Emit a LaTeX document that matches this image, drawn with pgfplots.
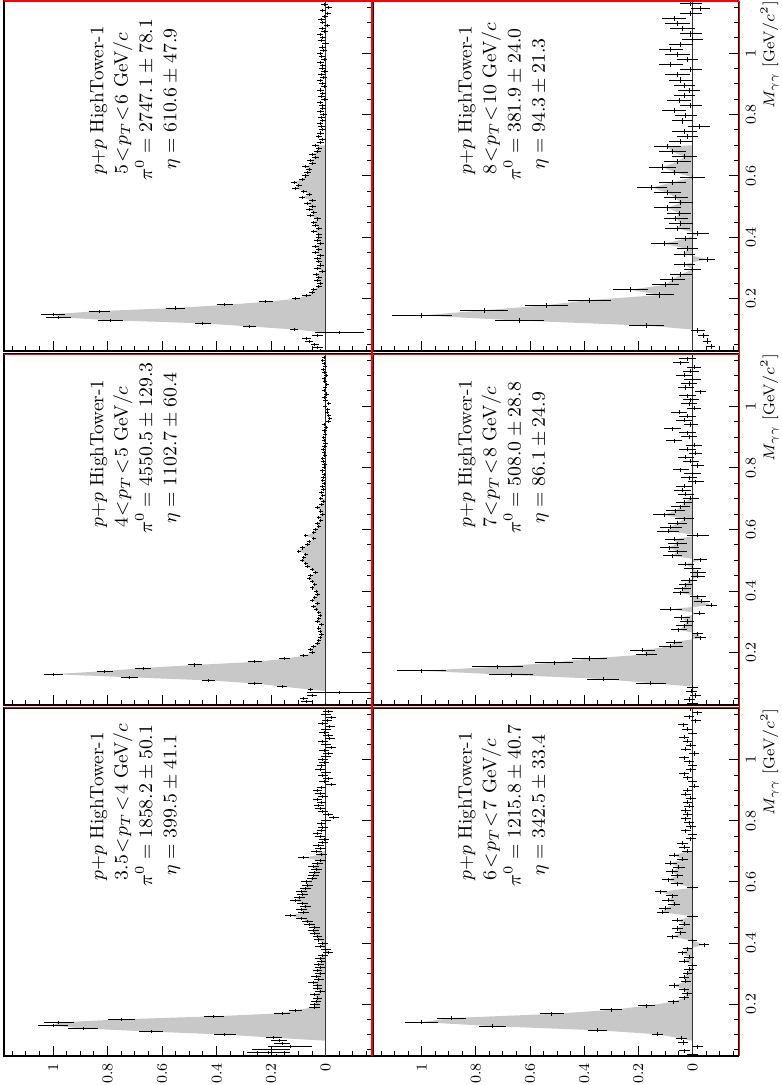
\RequirePackage{fix-cm}
\documentclass[border=0pt]{standalone}
\usepackage{pgfplots}
\pgfplotsset{compat=1.18}
\usepackage{pgfplotstable}
\definecolor{fillg}{RGB}{200,200,200}

% panel A: 3.5<pT<4 (bin 0.01)
\pgfplotstableread{
m c e
0.03 0.18 0.07
0.04 0.21 0.08
0.05 0.20 0.07
0.06 0.13 0.08
0.07 0.16 0.03
0.08 0.17 0.03
0.09 0.19 0.03
0.10 0.37 0.04
0.11 0.64 0.045
0.12 0.89 0.055
0.13 1.00 0.055
0.14 0.98 0.055
0.15 0.75 0.05
0.16 0.41 0.037
0.17 0.16 0.03
0.18 0.11 0.025
0.19 0.04 0.02
0.20 0.04 0.018
0.21 0.035 0.018
0.22 0.03 0.018
0.23 0.04 0.018
0.24 0.02 0.018
0.25 0.03 0.018
0.26 0.03 0.018
0.27 0.045 0.018
0.28 0.025 0.018
0.29 0.035 0.018
0.30 0.02 0.018
0.31 0.03 0.018
0.32 0.02 0.018
0.33 0.025 0.018
0.34 0.015 0.018
0.35 0.02 0.018
0.36 0.01 0.018
0.37 -0.01 0.018
0.38 0.0 0.018
0.39 0.02 0.018
0.40 0.01 0.018
0.41 0.025 0.018
0.42 0.03 0.018
0.43 0.04 0.018
0.44 0.045 0.02
0.45 0.04 0.02
0.46 0.06 0.02
0.47 0.065 0.02
0.48 0.09 0.02
0.49 0.13 0.02
0.50 0.08 0.02
0.51 0.09 0.02
0.52 0.075 0.02
0.53 0.085 0.02
0.54 0.11 0.02
0.55 0.095 0.02
0.56 0.085 0.02
0.57 0.09 0.02
0.58 0.075 0.02
0.59 0.065 0.02
0.60 0.07 0.02
0.61 0.05 0.02
0.62 0.045 0.02
0.63 0.04 0.02
0.64 0.035 0.02
0.65 0.045 0.02
0.66 0.03 0.02
0.67 0.02 0.02
0.68 0.08 0.02
0.69 0.015 0.02
0.70 0.035 0.02
0.71 0.02 0.02
0.72 0.025 0.02
0.73 0.01 0.018
0.74 0.005 0.018
0.75 0.02 0.018
0.76 0.03 0.018
0.77 0.015 0.018
0.78 0.01 0.018
0.79 0.015 0.018
0.80 0.0 0.018
0.81 -0.03 0.018
0.82 -0.01 0.018
0.83 0.01 0.018
0.84 0.02 0.018
0.85 0.025 0.018
0.86 0.015 0.018
0.87 0.03 0.018
0.88 0.01 0.018
0.89 0.02 0.018
0.90 0.03 0.018
0.91 0.015 0.018
0.92 -0.02 0.018
0.93 0.005 0.018
0.94 -0.01 0.018
0.95 0.01 0.018
0.96 0.0 0.018
0.97 0.02 0.018
0.98 0.015 0.018
0.99 0.005 0.018
1.00 0.01 0.018
1.01 0.0 0.018
1.02 -0.01 0.018
1.03 0.005 0.018
1.04 -0.02 0.018
1.05 0.0 0.018
1.06 0.01 0.018
1.07 -0.015 0.018
1.08 -0.01 0.018
1.09 0.005 0.018
1.10 0.0 0.018
1.11 -0.015 0.018
1.12 0.01 0.018
1.13 -0.005 0.018
1.14 -0.02 0.018
1.15 0.0 0.018
1.16 -0.01 0.018
}\tA

% panel B: 4<pT<5 (bin 0.01)
\pgfplotstableread{
m c e
0.03 0.0 0.02
0.04 0.07 0.02
0.05 0.08 0.015
0.06 0.05 0.02
0.07 -0.05 0.12
0.08 0.055 0.01
0.09 0.16 0.02
0.10 0.26 0.025
0.11 0.43 0.025
0.12 0.72 0.03
0.13 1.00 0.035
0.14 0.81 0.03
0.15 0.67 0.03
0.16 0.48 0.025
0.17 0.26 0.025
0.18 0.15 0.02
0.19 0.08 0.015
0.20 0.05 0.012
0.21 0.055 0.01
0.22 0.045 0.01
0.23 0.03 0.008
0.24 0.025 0.008
0.25 0.02 0.008
0.26 0.015 0.008
0.27 0.02 0.008
0.28 0.025 0.008
0.29 0.015 0.008
0.30 0.03 0.008
0.31 0.025 0.008
0.32 0.02 0.008
0.33 0.025 0.008
0.34 0.035 0.008
0.35 0.045 0.008
0.36 0.03 0.008
0.37 0.05 0.008
0.38 0.04 0.008
0.39 0.03 0.008
0.40 0.035 0.008
0.41 0.05 0.008
0.42 0.04 0.008
0.43 0.05 0.008
0.44 0.06 0.008
0.45 0.055 0.008
0.46 0.037 0.008
0.47 0.05 0.008
0.48 0.067 0.008
0.49 0.073 0.008
0.50 0.086 0.008
0.51 0.08 0.008
0.52 0.073 0.008
0.53 0.098 0.008
0.54 0.085 0.008
0.55 0.067 0.008
0.56 0.06 0.008
0.57 0.043 0.008
0.58 0.073 0.008
0.59 0.043 0.008
0.60 0.037 0.008
0.61 0.025 0.008
0.62 0.03 0.008
0.63 0.018 0.008
0.64 0.025 0.008
0.65 0.012 0.008
0.66 0.018 0.008
0.67 0.03 0.008
0.68 0.015 0.008
0.69 0.008 0.008
0.70 0.018 0.008
0.71 0.01 0.008
0.72 0.015 0.008
0.73 0.008 0.008
0.74 0.012 0.008
0.75 0.005 0.008
0.76 0.01 0.008
0.77 0.008 0.008
0.78 0.005 0.008
0.79 0.012 0.008
0.80 0.006 0.008
0.81 0.004 0.008
0.82 0.008 0.008
0.83 0.01 0.008
0.84 0.003 0.008
0.85 0.006 0.008
0.86 0.009 0.008
0.87 0.004 0.008
0.88 0.0 0.008
0.89 0.005 0.008
0.90 0.007 0.008
0.91 0.002 0.008
0.92 0.004 0.008
0.93 -0.002 0.008
0.94 0.006 0.008
0.95 -0.01 0.008
0.96 -0.015 0.008
0.97 -0.012 0.008
0.98 -0.005 0.008
0.99 -0.008 0.008
1.00 0.002 0.008
1.01 -0.012 0.008
1.02 0.0 0.008
1.03 0.004 0.008
1.04 -0.003 0.008
1.05 0.005 0.008
1.06 0.002 0.008
1.07 -0.004 0.008
1.08 0.003 0.008
1.09 0.006 0.008
1.10 -0.002 0.008
1.11 0.004 0.008
1.12 0.008 0.008
1.13 0.002 0.008
1.14 0.006 0.008
1.15 0.01 0.008
1.16 0.005 0.008
}\tB

% panel C: 5<pT<6 (bin 0.01)
\pgfplotstableread{
m c e
0.03 0.02 0.02
0.04 0.03 0.02
0.05 0.04 0.015
0.06 0.06 0.015
0.07 0.07 0.015
0.08 0.03 0.02
0.09 -0.05 0.09
0.10 0.115 0.015
0.11 0.28 0.025
0.12 0.45 0.03
0.13 0.79 0.045
0.14 0.98 0.045
0.15 1.00 0.045
0.16 0.83 0.04
0.17 0.55 0.035
0.18 0.37 0.03
0.19 0.22 0.025
0.20 0.11 0.015
0.21 0.07 0.015
0.22 0.05 0.012
0.23 0.043 0.012
0.24 0.025 0.012
0.25 0.02 0.012
0.26 0.03 0.012
0.27 0.025 0.012
0.28 0.035 0.012
0.29 0.012 0.012
0.30 0.03 0.012
0.31 0.018 0.012
0.32 0.025 0.012
0.33 0.03 0.012
0.34 0.018 0.012
0.35 0.037 0.012
0.36 0.025 0.012
0.37 0.037 0.012
0.38 0.018 0.012
0.39 0.03 0.012
0.40 0.025 0.012
0.41 0.025 0.012
0.42 0.043 0.012
0.43 0.025 0.012
0.44 0.037 0.012
0.45 0.043 0.012
0.46 0.03 0.012
0.47 0.055 0.012
0.48 0.043 0.012
0.49 0.06 0.012
0.50 0.049 0.012
0.51 0.067 0.012
0.52 0.049 0.012
0.53 0.086 0.012
0.54 0.061 0.012
0.55 0.08 0.012
0.56 0.11 0.012
0.57 0.098 0.012
0.58 0.116 0.012
0.59 0.086 0.012
0.60 0.073 0.012
0.61 0.067 0.012
0.62 0.061 0.012
0.63 0.073 0.012
0.64 0.049 0.012
0.65 0.055 0.012
0.66 0.037 0.012
0.67 0.049 0.012
0.68 0.03 0.012
0.69 0.025 0.012
0.70 0.037 0.012
0.71 0.018 0.012
0.72 0.012 0.012
0.73 0.025 0.012
0.74 0.018 0.012
0.75 0.012 0.012
0.76 0.015 0.012
0.77 0.02 0.012
0.78 0.01 0.012
0.79 0.015 0.012
0.80 0.008 0.012
0.81 0.018 0.012
0.82 0.01 0.012
0.83 0.012 0.012
0.84 0.02 0.012
0.85 0.005 0.012
0.86 0.015 0.012
0.87 0.01 0.012
0.88 0.018 0.012
0.89 0.006 0.012
0.90 0.012 0.012
0.91 0.02 0.012
0.92 0.008 0.012
0.93 0.015 0.012
0.94 0.004 0.012
0.95 0.012 0.012
0.96 0.01 0.012
0.97 0.018 0.012
0.98 0.006 0.012
0.99 0.014 0.012
1.00 0.02 0.012
1.01 0.008 0.012
1.02 0.012 0.012
1.03 0.0 0.012
1.04 0.015 0.012
1.05 0.01 0.012
1.06 0.02 0.012
1.07 0.005 0.012
1.08 0.012 0.012
1.09 -0.005 0.012
1.10 0.01 0.012
1.11 0.015 0.012
1.12 0.003 0.012
1.13 -0.008 0.012
1.14 0.01 0.012
1.15 -0.012 0.012
1.16 0.005 0.012
}\tC

% panel D: 6<pT<7 (bin 0.0133)
\pgfplotstableread{
m c e
0.0343 0.0 0.02
0.0477 0.03 0.02
0.0610 -0.02 0.02
0.0743 0.035 0.02
0.0877 0.04 0.02
0.1010 0.13 0.02
0.1143 0.35 0.035
0.1277 0.74 0.05
0.1410 1.00 0.06
0.1543 0.89 0.055
0.1677 0.52 0.045
0.1810 0.30 0.04
0.1943 0.17 0.03
0.2077 0.07 0.02
0.2210 0.03 0.018
0.2343 0.02 0.018
0.2477 0.03 0.018
0.2610 0.068 0.02
0.2743 0.025 0.018
0.2877 0.03 0.018
0.3010 0.018 0.018
0.3143 0.012 0.018
0.3277 0.0 0.018
0.3410 0.03 0.018
0.3543 0.012 0.018
0.3677 0.037 0.018
0.3810 0.018 0.018
0.3943 -0.043 0.018
0.4077 0.0 0.018
0.4210 0.074 0.02
0.4343 0.043 0.02
0.4477 0.056 0.02
0.4610 0.03 0.02
0.4743 0.056 0.02
0.4877 0.0 0.02
0.5010 0.11 0.022
0.5143 0.10 0.022
0.5277 0.068 0.022
0.5410 0.09 0.022
0.5543 0.074 0.022
0.5677 0.117 0.022
0.5810 0.0 0.022
0.5943 0.056 0.022
0.6077 0.09 0.022
0.6210 0.056 0.022
0.6343 0.074 0.022
0.6477 0.05 0.022
0.6610 0.08 0.022
0.6743 0.037 0.02
0.6877 0.068 0.02
0.7010 0.02 0.02
0.7143 0.03 0.02
0.7277 0.037 0.02
0.7410 0.006 0.018
0.7543 0.0 0.018
0.7677 0.025 0.018
0.7810 0.006 0.018
0.7943 0.012 0.018
0.8077 0.025 0.018
0.8210 0.018 0.018
0.8343 0.025 0.018
0.8477 0.012 0.018
0.8610 0.018 0.018
0.8743 0.006 0.018
0.8877 0.025 0.018
0.9010 0.018 0.018
0.9143 -0.006 0.018
0.9277 0.0 0.018
0.9410 0.018 0.018
0.9543 0.03 0.018
0.9677 0.006 0.018
0.9810 0.0 0.018
0.9943 0.012 0.018
1.0077 0.03 0.018
1.0210 -0.006 0.018
1.0343 0.025 0.018
1.0477 0.006 0.018
1.0610 0.018 0.018
1.0743 0.03 0.018
1.0877 0.0 0.018
1.1010 0.02 0.018
1.1143 0.035 0.018
1.1277 -0.012 0.018
1.1410 0.012 0.018
1.1543 -0.018 0.018
1.1677 0.006 0.018
}\tD

% panel E: 7<pT<8 (bin 0.0133)
\pgfplotstableread{
m c e
0.0343 0.0 0.02
0.0477 0.01 0.02
0.0610 -0.01 0.02
0.0743 0.005 0.02
0.0877 0.0 0.02
0.1010 0.154 0.055
0.1143 0.33 0.06
0.1277 0.67 0.08
0.1410 1.00 0.09
0.1543 0.72 0.095
0.1677 0.51 0.07
0.1810 0.38 0.065
0.1943 0.17 0.04
0.2077 0.185 0.045
0.2210 0.08 0.045
0.2343 0.068 0.03
0.2477 -0.03 0.02
0.2610 -0.02 0.02
0.2743 0.05 0.03
0.2877 0.03 0.03
0.3010 0.02 0.025
0.3143 0.04 0.03
0.3277 -0.025 0.02
0.3410 0.08 0.04
0.3543 -0.07 0.02
0.3677 -0.035 0.03
0.3810 -0.02 0.03
0.3943 0.043 0.03
0.4077 0.037 0.03
0.4210 0.025 0.025
0.4343 0.012 0.03
0.4477 -0.02 0.025
0.4610 -0.02 0.03
0.4743 0.0 0.03
0.4877 0.025 0.03
0.5010 -0.03 0.025
0.5143 0.074 0.035
0.5277 0.056 0.035
0.5410 0.086 0.035
0.5543 0.056 0.035
0.5677 0.068 0.035
0.5810 -0.02 0.04
0.5943 0.09 0.04
0.6077 0.08 0.04
0.6210 0.056 0.035
0.6343 0.03 0.035
0.6477 0.105 0.04
0.6610 0.062 0.035
0.6743 0.043 0.035
0.6877 0.03 0.03
0.7010 0.006 0.03
0.7143 0.025 0.03
0.7277 0.037 0.03
0.7410 0.03 0.03
0.7543 -0.012 0.03
0.7677 0.012 0.03
0.7810 0.0 0.03
0.7943 0.043 0.03
0.8077 -0.018 0.025
0.8210 0.006 0.03
0.8343 0.025 0.03
0.8477 -0.012 0.025
0.8610 0.018 0.03
0.8743 -0.006 0.03
0.8877 0.068 0.03
0.9010 0.012 0.03
0.9143 0.018 0.03
0.9277 0.074 0.03
0.9410 0.006 0.025
0.9543 0.03 0.03
0.9677 0.018 0.03
0.9810 0.049 0.03
0.9943 -0.006 0.025
1.0077 0.012 0.03
1.0210 0.006 0.03
1.0343 0.018 0.03
1.0477 -0.03 0.02
1.0610 0.025 0.03
1.0743 0.012 0.03
1.0877 0.0 0.03
1.1010 0.03 0.03
1.1143 0.006 0.03
1.1277 -0.006 0.025
1.1410 0.043 0.03
1.1543 0.018 0.03
1.1677 0.0 0.03
}\tE

% panel F: 8<pT<10 (bin 0.0167)
\pgfplotstableread{
m c e
0.0458 -0.07 0.015
0.0625 -0.055 0.015
0.0792 -0.04 0.02
0.0958 -0.02 0.025
0.1125 0.17 0.065
0.1292 0.64 0.09
0.1458 1.00 0.11
0.1625 0.77 0.09
0.1792 0.54 0.08
0.1958 0.38 0.08
0.2125 0.12 0.05
0.2292 0.23 0.065
0.2458 0.10 0.05
0.2625 0.074 0.045
0.2792 0.043 0.04
0.2958 0.0 0.03
0.3125 0.03 0.04
0.3292 -0.055 0.03
0.3458 0.03 0.04
0.3625 0.018 0.04
0.3792 0.105 0.05
0.3958 0.025 0.04
0.4125 -0.02 0.04
0.4292 0.056 0.045
0.4458 0.043 0.045
0.4625 0.062 0.045
0.4792 0.049 0.045
0.4958 0.093 0.05
0.5125 0.043 0.045
0.5292 0.062 0.045
0.5458 0.093 0.05
0.5625 0.15 0.055
0.5792 0.074 0.05
0.5958 0.0 0.045
0.6125 0.068 0.05
0.6292 0.11 0.05
0.6458 0.056 0.05
0.6625 0.03 0.045
0.6792 0.074 0.05
0.6958 0.093 0.05
0.7125 0.043 0.045
0.7292 0.018 0.04
0.7458 0.03 0.045
0.7625 -0.025 0.04
0.7792 0.037 0.04
0.7958 0.025 0.04
0.8125 0.068 0.045
0.8292 0.006 0.04
0.8458 0.049 0.045
0.8625 0.03 0.04
0.8792 0.012 0.04
0.8958 0.03 0.04
0.9125 0.043 0.045
0.9292 0.056 0.045
0.9458 0.006 0.04
0.9625 0.08 0.045
0.9792 0.018 0.04
0.9958 0.056 0.045
1.0125 0.08 0.045
1.0292 0.043 0.045
1.0458 0.0 0.04
1.0625 0.006 0.04
1.0792 0.037 0.045
1.0958 0.056 0.045
1.1125 0.068 0.045
1.1292 0.006 0.04
1.1458 -0.03 0.035
1.1625 0.006 0.04
}\tF

\pgfplotsset{
  panel/.style={
    scale only axis, anchor=south west,
    xmin=-0.17, xmax=1.18, ymin=0.03, ymax=1.17, x dir=reverse,
    xtick={0,0.2,0.4,0.6,0.8,1},
    minor xtick={-0.15,-0.1,-0.05,0.05,0.1,0.15,0.25,0.3,0.35,0.45,0.5,0.55,0.65,0.7,0.75,0.85,0.9,0.95,1.05,1.1,1.15},
    ytick={0.2,0.4,0.6,0.8,1},
    minor ytick={0.05,0.1,0.15,0.25,0.3,0.35,0.45,0.5,0.55,0.65,0.7,0.75,0.85,0.9,0.95,1.05,1.1,1.15},
    xtick pos=left, ytick pos=right,
    xticklabel pos=left, yticklabel pos=right,
    tick align=inside,
    major tick length=5pt, minor tick length=2.5pt,
    every tick/.style={black, line width=0.5pt},
    axis line style={line width=0.6pt},
    tick label style={font=\fontsize{7.5}{8}\selectfont},
    xticklabel style={rotate=90, anchor=east},
    yticklabel style={rotate=90, anchor=north},
    xticklabels={}, yticklabels={},
    clip mode=individual,
  },
  bottomlabels/.style={xticklabels={0,0.2,0.4,0.6,0.8,1}},
  rightlabels/.style={yticklabels={0.2,0.4,0.6,0.8,1}},
  errs/.style={only marks, mark=*, mark size=0pt, mark options={draw=none, fill=none}, error bars/.cd, x dir=both, x explicit, y dir=both, y fixed=#1, error mark=none, error bar style={draw=black, line width=0.5pt}},
  grayfill/.style={fill=fillg, draw=none, restrict y to domain=#1},
  zeroline/.style={black!80, line width=0.5pt},
}
\tikzset{
  txt/.style={rotate=90, anchor=north west, inner sep=0pt, font=\fontsize{9.6}{12.2}\selectfont},
  mlab/.style={rotate=90, anchor=north east, inner sep=0pt, font=\fontsize{7.8}{8.5}\selectfont},
}
\newcommand{\lt}{\mskip1.5mu{<}\mskip1.5mu}
\newcommand{\info}[3]{\begin{tabular}{@{}r@{}l@{}}\multicolumn{2}{@{}l@{}}{\hspace{3pt}$p$+$p$ HighTower-1}\\\multicolumn{2}{@{}l@{}}{\hspace{3pt}$#1$ GeV$/c$}\\$\pi^0$&${}=#2$\\$\eta$&${}=#3$\end{tabular}}

\begin{document}
\begin{tikzpicture}
\useasboundingbox (0,0) rectangle (390.5pt,542.5pt);

% bottom-left: 3.5-4
\begin{axis}[panel, bottomlabels, at={(2pt,14.5pt)}, width=184pt, height=174pt]
  \addplot[grayfill=0.085:0.705] table[x=c, y=m] {\tA} -- (axis cs:0,0.70) -- (axis cs:0,0.08) -- cycle;
  \addplot[zeroline] coordinates {(0,0.03) (0,1.17)};
  \addplot[errs=0.005] table[x=c, y=m, x error=e] {\tA};
  \node[txt] at (axis cs:0.88,0.585) {\info{3.5\lt p_T\lt 4}{1858.2\pm50.1}{399.5\pm41.1}};
\end{axis}

% middle-left: 4-5
\begin{axis}[panel, at={(2pt,190pt)}, width=184pt, height=175.5pt]
  \addplot[grayfill=0.075:0.705] table[x=c, y=m] {\tB} -- (axis cs:0,0.70) -- (axis cs:0,0.075) -- cycle;
  \addplot[zeroline] coordinates {(0,0.03) (0,1.17)};
  \addplot[errs=0.005] table[x=c, y=m, x error=e] {\tB};
  \node[txt] at (axis cs:0.88,0.585) {\info{4\lt p_T\lt 5}{4550.5\pm129.3}{1102.7\pm60.4}};
\end{axis}

% top-left: 5-6
\begin{axis}[panel, at={(2pt,367pt)}, width=184pt, height=175pt]
  \addplot[grayfill=0.095:0.705] table[x=c, y=m] {\tC} -- (axis cs:0,0.70) -- (axis cs:0,0.09) -- cycle;
  \addplot[zeroline] coordinates {(0,0.03) (0,1.17)};
  \addplot[errs=0.005] table[x=c, y=m, x error=e] {\tC};
  \node[txt] at (axis cs:0.88,0.585) {\info{5\lt p_T\lt 6}{2747.1\pm78.1}{610.6\pm47.9}};
\end{axis}

% bottom-right: 6-7
\begin{axis}[panel, bottomlabels, rightlabels, at={(186.5pt,14.5pt)}, width=182.75pt, height=174pt]
  \addplot[grayfill=0.085:0.705] table[x=c, y=m] {\tD} -- (axis cs:0,0.70) -- (axis cs:0,0.079) -- cycle;
  \addplot[zeroline] coordinates {(0,0.03) (0,1.17)};
  \addplot[errs=0.00667] table[x=c, y=m, x error=e] {\tD};
  \node[txt] at (axis cs:0.88,0.585) {\info{6\lt p_T\lt 7}{1215.8\pm40.7}{342.5\pm33.4}};
  \node[mlab] at (axis cs:-0.25,1.17) {$M_{\gamma\gamma}$ [GeV$/c^2$]};
\end{axis}

% middle-right: 7-8
\begin{axis}[panel, rightlabels, at={(186.5pt,190pt)}, width=182.75pt, height=175.5pt]
  \addplot[grayfill=0.095:0.705] table[x=c, y=m] {\tE} -- (axis cs:0,0.70) -- (axis cs:0,0.09) -- cycle;
  \addplot[zeroline] coordinates {(0,0.03) (0,1.17)};
  \addplot[errs=0.00667] table[x=c, y=m, x error=e] {\tE};
  \node[txt] at (axis cs:0.88,0.585) {\info{7\lt p_T\lt 8}{508.0\pm28.8}{86.1\pm24.9}};
  \node[mlab] at (axis cs:-0.25,1.17) {$M_{\gamma\gamma}$ [GeV$/c^2$]};
\end{axis}

% top-right: 8-10
\begin{axis}[panel, rightlabels, at={(186.5pt,367pt)}, width=182.75pt, height=175pt]
  \addplot[grayfill=0.105:0.705] table[x=c, y=m] {\tF} -- (axis cs:0,0.70) -- (axis cs:0,0.10) -- cycle;
  \addplot[zeroline] coordinates {(0,0.03) (0,1.17)};
  \addplot[errs=0.00833] table[x=c, y=m, x error=e] {\tF};
  \node[txt] at (axis cs:0.88,0.585) {\info{8\lt p_T\lt 10}{381.9\pm24.0}{94.3\pm21.3}};
  \node[mlab] at (axis cs:-0.25,1.17) {$M_{\gamma\gamma}$ [GeV$/c^2$]};
\end{axis}

% pad borders
\draw[red, line width=0.6pt] (2pt,542pt) -- (369.5pt,542pt);
\draw[red, line width=0.6pt] (2pt,365.3pt) -- (369.5pt,365.3pt);
\draw[red, line width=0.6pt] (2pt,188.7pt) -- (369.5pt,188.7pt);
\draw[red, line width=0.6pt] (186pt,542pt) -- (186pt,14.5pt);
\draw[red, line width=0.6pt] (369.6pt,542pt) -- (369.6pt,14.5pt);
\end{tikzpicture}
\end{document}
